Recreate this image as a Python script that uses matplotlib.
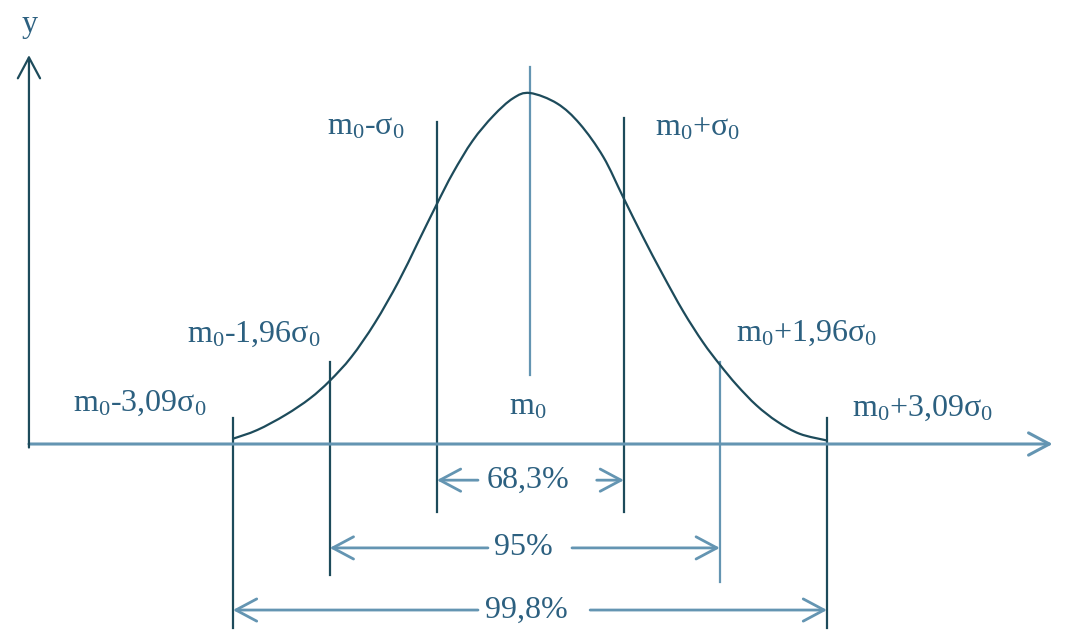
import numpy as np
import matplotlib.pyplot as plt
from matplotlib.path import Path
from matplotlib.patches import PathPatch

plt.rcParams['font.family'] = ['Liberation Serif', 'DejaVu Serif']
plt.rcParams['mathtext.fontset'] = 'custom'
plt.rcParams['mathtext.rm'] = 'Liberation Serif'
plt.rcParams['mathtext.it'] = 'Liberation Serif'

# Curve (x in drawing sigma units, y relative to the peak)
curve_x = [-3.16, -2.9, -2.6, -2.34, -2.13, -1.9, -1.65, -1.4, -1.2, -0.99,
           -0.82, -0.61, -0.39, -0.18, 0.0, 0.29, 0.53, 0.78, 0.99,
           1.2, 1.41, 1.63, 1.84, 2.02, 2.2, 2.41, 2.63, 2.87, 3.16]
curve_y = [0.015, 0.040, 0.083, 0.130, 0.180, 0.248, 0.345, 0.462, 0.570, 0.684,
           0.772, 0.864, 0.935, 0.985, 1.0, 0.970, 0.912, 0.818, 0.704,
           0.591, 0.484, 0.378, 0.290, 0.226, 0.168, 0.110, 0.064, 0.029, 0.010]

# Vertical marker lines: position, top, bottom
mark_x = [0.0, -0.99, 1.0, -2.13, 2.02, -3.16, 3.16]
mark_top = [1.074, 0.917, 0.929, 0.234, 0.234, 0.074, 0.074]
mark_bottom = [0.197, -0.194, -0.194, -0.373, -0.393, -0.524, -0.524]

# Labels of the markers
mark_labels = [r'$\mathrm{m_0}$',
               r'$\mathrm{m_0}$-$\mathrm{\sigma_0}$',
               r'$\mathrm{m_0}$+$\mathrm{\sigma_0}$',
               r'$\mathrm{m_0}$-1,96$\mathrm{\sigma_0}$',
               r'$\mathrm{m_0}$+1,96$\mathrm{\sigma_0}$',
               r'$\mathrm{m_0}$-3,09$\mathrm{\sigma_0}$',
               r'$\mathrm{m_0}$+3,09$\mathrm{\sigma_0}$']
label_pos = [(-0.02, 0.105), (-1.745, 0.903), (1.777, 0.900), (-2.936, 0.313),
             (2.947, 0.316), (-4.149, 0.117), (4.18, 0.103)]

# Interval arrows: level, left end, right end, label
interval_y = [-0.103, -0.296, -0.473]
interval_lo = [-0.99, -2.13, -3.16]
interval_hi = [1.0, 2.02, 3.16]
interval_labels = ['68,3%', '95%', '99,8%']
text_x = [-0.02, -0.07, -0.04]
gap_left = [-0.553, -0.447, -0.553]
gap_right = [0.71, 0.447, 0.64]

dark = '#1d4b5b'
light = '#6495b2'
txt = '#2c6080'
mark_colors = [light, dark, dark, dark, light, dark, dark]
fs = 23


def smooth_path(xs, ys):
    # Catmull-Rom through the read points, drawn as cubic Bezier segments
    p = np.column_stack([xs, ys])
    verts = [p[0]]
    codes = [Path.MOVETO]
    for i in range(len(p) - 1):
        p0 = p[i - 1] if i > 0 else p[i]
        p3 = p[i + 2] if i + 2 < len(p) else p[i + 1]
        c1 = p[i] + (p[i + 1] - p0) / 6
        c2 = p[i + 1] - (p3 - p[i]) / 6
        verts += [c1, c2, p[i + 1]]
        codes += [Path.CURVE4] * 3
    return Path(verts, codes)


fig = plt.figure(figsize=(10.67, 6.32), dpi=100, facecolor='w')
ax = fig.add_axes([0, 0, 1, 1])
ax.set_xlim(-5.638, 5.713)
ax.set_ylim(-0.5356, 1.265)
ax.axis('off')

head = '->,head_length=0.75,head_width=0.4'

# axes with open arrowheads
ax.annotate('', xy=(5.56, 0), xytext=(-5.33, 0),
            arrowprops=dict(arrowstyle=head, color=light, lw=2.2,
                            shrinkA=0, shrinkB=0, mutation_scale=20))
ax.annotate('', xy=(-5.33, 1.108), xytext=(-5.33, -0.01),
            arrowprops=dict(arrowstyle=head, color=dark, lw=1.6,
                            shrinkA=0, shrinkB=0, mutation_scale=20))
ax.text(-5.32, 1.194, 'y', fontsize=fs, color=txt, ha='center', va='center')

# curve
ax.add_patch(PathPatch(smooth_path(curve_x, curve_y), facecolor='none',
                       edgecolor=dark, lw=1.6, zorder=3))

# vertical lines and their labels
for x, t, b, c in zip(mark_x, mark_top, mark_bottom, mark_colors):
    ax.plot([x, x], [b, t], color=c, lw=1.6, zorder=2)
for s, (lx, ly) in zip(mark_labels, label_pos):
    ax.text(lx, ly, s, fontsize=fs, color=txt, ha='center', va='center')

# interval arrows
for y, lo, hi, s, tx, gl, gr in zip(interval_y, interval_lo, interval_hi,
                                     interval_labels, text_x, gap_left, gap_right):
    for tail, tip in ((gl, lo), (gr, hi)):
        ax.annotate('', xy=(tip, y), xytext=(tail, y),
                    arrowprops=dict(arrowstyle=head, color=light, lw=2.0,
                                    shrinkA=0, shrinkB=0, mutation_scale=20))
    ax.text(tx, y, s, fontsize=fs, color=txt, ha='center', va='center')

fig.savefig('out.png', dpi=100, facecolor='w')
